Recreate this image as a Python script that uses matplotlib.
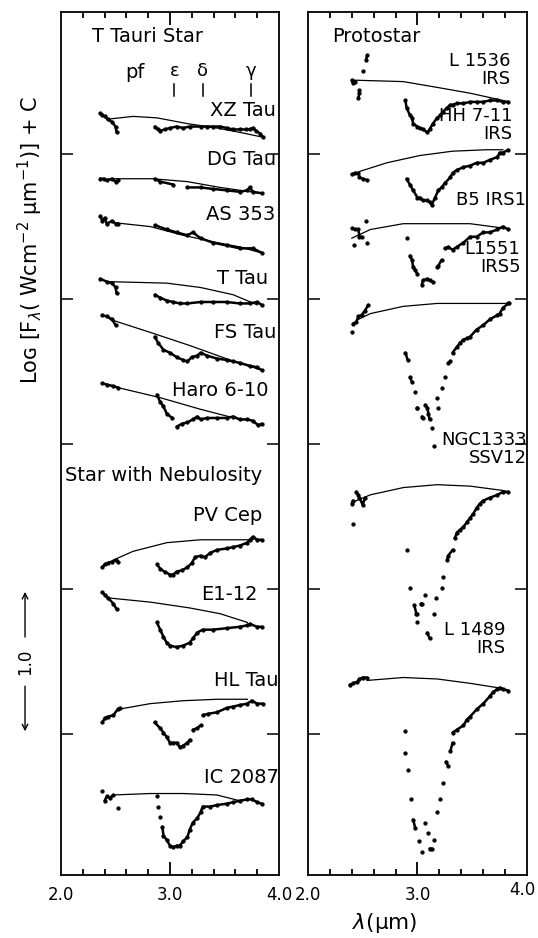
import numpy as np
import matplotlib
matplotlib.use("Agg")
import matplotlib.pyplot as plt
from matplotlib.ticker import FixedLocator, NullFormatter
from matplotlib import font_manager

plt.rcParams['font.family'] = ['DejaVu Sans']
plt.rcParams['mathtext.fontset'] = 'dejavusans'

names = {f.name for f in font_manager.fontManager.ttflist}
HAS_NARROW = 'Liberation Sans Narrow' in names
NARROW = ['Liberation Sans Narrow', 'DejaVu Sans'] if HAS_NARROW else ['DejaVu Sans']

# ---------------- data (x in micron, y = log F + C) ----------------
# T Tauri stars
xz_x = [2.36, 2.38, 2.40, 2.43, 2.47, 2.50, 2.51,
        2.86, 2.89, 2.91, 2.95, 3.00, 3.06, 3.12, 3.18, 3.28, 3.34, 3.39, 3.46, 3.52, 3.58, 3.64, 3.70, 3.73, 3.76, 3.79, 3.83, 3.85]
xz_y = [5.28, 5.27, 5.26, 5.24, 5.22, 5.19, 5.15,
        5.19, 5.17, 5.16, 5.17, 5.18, 5.19, 5.18, 5.19, 5.19, 5.19, 5.19, 5.19, 5.18, 5.17, 5.17, 5.17, 5.17, 5.18, 5.16, 5.14, 5.12]
xz_cx = [2.42, 2.66, 2.88, 3.16, 3.43, 3.64, 3.83]
xz_cy = [5.24, 5.26, 5.25, 5.21, 5.18, 5.15, 5.12]

dg_x = [2.36, 2.39, 2.42, 2.47, 2.50, 2.52,
        2.86, 2.91, 3.03, 3.16, 3.28, 3.39, 3.52, 3.64, 3.71, 3.73, 3.76, 3.84]
dg_y = [4.83, 4.83, 4.82, 4.83, 4.81, 4.82,
        4.83, 4.81, 4.79, 4.77, 4.77, 4.76, 4.75, 4.74, 4.75, 4.77, 4.74, 4.73]
dg_cx = [2.45, 2.84, 3.16, 3.46, 3.83]
dg_cy = [4.83, 4.83, 4.81, 4.77, 4.73]

as_x = [2.36, 2.38, 2.40, 2.42, 2.47, 2.50, 2.52,
        2.86, 2.97, 3.06, 3.16, 3.21, 3.28, 3.39, 3.52, 3.64, 3.76, 3.84]
as_y = [4.57, 4.54, 4.56, 4.52, 4.54, 4.52, 4.52,
        4.51, 4.48, 4.46, 4.44, 4.46, 4.42, 4.39, 4.37, 4.35, 4.35, 4.32]
as_cx = [2.45, 2.82, 3.12, 3.43, 3.64, 3.83]
as_cy = [4.53, 4.50, 4.44, 4.39, 4.36, 4.32]

tt_x = [2.36, 2.42, 2.47, 2.50, 2.51,
        2.86, 2.91, 2.97, 3.03, 3.09, 3.16, 3.28, 3.39, 3.52, 3.64, 3.73, 3.80, 3.84]
tt_y = [4.14, 4.12, 4.11, 4.08, 4.04,
        4.03, 4.01, 3.99, 3.98, 3.97, 3.97, 3.98, 3.98, 3.98, 3.97, 3.97, 3.98, 3.96]
tt_cx = [2.45, 2.97, 3.28, 3.58, 3.80]
tt_cy = [4.12, 4.11, 4.08, 4.03, 3.96]

fs_x = [2.38, 2.42, 2.47, 2.50,
        2.86, 2.89, 2.94, 3.00, 3.06, 3.12, 3.16, 3.20, 3.25, 3.28, 3.34, 3.43, 3.52, 3.58, 3.64, 3.73, 3.80, 3.84]
fs_y = [3.89, 3.88, 3.86, 3.82,
        3.74, 3.70, 3.65, 3.63, 3.60, 3.58, 3.57, 3.60, 3.61, 3.63, 3.61, 3.59, 3.58, 3.57, 3.56, 3.54, 3.53, 3.51]
fs_cx = [2.45, 2.82, 3.18, 3.55, 3.84]
fs_cy = [3.86, 3.77, 3.68, 3.58, 3.51]

haro_x = [2.38, 2.42, 2.48, 2.52,
          2.88, 2.91, 2.94, 2.97, 3.02, 3.06, 3.11, 3.16, 3.21, 3.25, 3.28, 3.34, 3.43, 3.52, 3.58, 3.64, 3.71, 3.76, 3.81, 3.84]
haro_y = [3.42, 3.41, 3.40, 3.39,
          3.34, 3.29, 3.26, 3.21, 3.18, 3.12, 3.14, 3.15, 3.17, 3.19, 3.17, 3.18, 3.18, 3.18, 3.19, 3.17, 3.17, 3.16, 3.13, 3.14]
haro_cx = [2.52, 2.91, 3.28, 3.64]
haro_cy = [3.39, 3.32, 3.24, 3.17]

# Stars with nebulosity
pv_x = [2.38, 2.40, 2.43, 2.47, 2.50, 2.52,
        2.88, 2.91, 2.95, 3.00, 3.03, 3.06, 3.11, 3.16, 3.20, 3.23, 3.28, 3.32, 3.37, 3.43, 3.52, 3.58, 3.64, 3.71, 3.73, 3.76, 3.80, 3.84]
pv_y = [2.15, 2.17, 2.18, 2.19, 2.20, 2.19,
        2.17, 2.14, 2.12, 2.10, 2.10, 2.12, 2.13, 2.15, 2.18, 2.22, 2.23, 2.22, 2.25, 2.27, 2.28, 2.29, 2.30, 2.32, 2.34, 2.36, 2.34, 2.34]
pv_cx = [2.48, 2.66, 2.97, 3.28, 3.58, 3.76]
pv_cy = [2.20, 2.26, 2.32, 2.34, 2.34, 2.34]

e1_x = [2.38, 2.40, 2.43, 2.48, 2.51,
        2.88, 2.91, 2.94, 2.97, 3.00, 3.06, 3.12, 3.18, 3.21, 3.25, 3.30, 3.39, 3.52, 3.64, 3.71, 3.73, 3.80, 3.84]
e1_y = [1.98, 1.96, 1.94, 1.90, 1.86,
        1.77, 1.72, 1.67, 1.63, 1.61, 1.60, 1.61, 1.63, 1.66, 1.70, 1.72, 1.72, 1.73, 1.74, 1.75, 1.76, 1.74, 1.74]
e1_cx = [2.42, 2.82, 3.18, 3.46, 3.71]
e1_cy = [1.94, 1.91, 1.87, 1.83, 1.77]

hl_x = [2.38, 2.40, 2.43, 2.48, 2.52, 2.54,
        2.86, 2.91, 2.94, 2.97, 3.00, 3.03, 3.06, 3.09, 3.12, 3.16, 3.18, 3.21, 3.25, 3.28, 3.30, 3.35, 3.43, 3.52, 3.58, 3.64, 3.71, 3.75, 3.80, 3.85]
hl_y = [1.08, 1.11, 1.12, 1.13, 1.17, 1.18,
        1.08, 1.04, 1.01, 0.98, 0.94, 0.94, 0.94, 0.91, 0.92, 0.94, 0.96, 1.03, 1.04, 1.06, 1.13, 1.14, 1.15, 1.18, 1.19, 1.20, 1.21, 1.23, 1.21, 1.21]
hl_cx = [2.52, 2.82, 3.12, 3.43, 3.71]
hl_cy = [1.17, 1.21, 1.23, 1.24, 1.24]

ic_x = [2.38, 2.40, 2.42, 2.45, 2.48, 2.52,
        2.88, 2.89, 2.91, 2.93, 2.94, 2.97, 3.00, 3.03, 3.06, 3.09, 3.12, 3.16, 3.18, 3.21, 3.25, 3.28, 3.30, 3.37, 3.43, 3.52, 3.58, 3.64, 3.71, 3.75, 3.80, 3.84]
ic_y = [0.61, 0.54, 0.57, 0.56, 0.58, 0.49,
        0.57, 0.50, 0.43, 0.36, 0.30, 0.27, 0.23, 0.22, 0.23, 0.23, 0.26, 0.29, 0.34, 0.39, 0.42, 0.46, 0.50, 0.50, 0.51, 0.52, 0.53, 0.54, 0.55, 0.55, 0.53, 0.52]
ic_cx = [2.48, 2.82, 3.12, 3.43, 3.64]
ic_cy = [0.58, 0.59, 0.59, 0.58, 0.54]

# Protostars
l1536_x = [2.40, 2.41, 2.43, 2.46, 2.47, 2.47, 2.50, 2.53, 2.54,
           2.89, 2.90, 2.93, 2.95, 2.96, 3.00, 3.02, 3.05, 3.09, 3.11, 3.14, 3.18, 3.21, 3.23, 3.27, 3.30, 3.32, 3.36, 3.42, 3.48, 3.54, 3.60, 3.66, 3.73, 3.78, 3.83]
l1536_y = [5.51, 5.49, 5.50, 5.39, 5.42, 5.44, 5.57, 5.65, 5.68,
           5.37, 5.32, 5.27, 5.25, 5.21, 5.19, 5.18, 5.17, 5.15, 5.17, 5.21, 5.25, 5.27, 5.29, 5.32, 5.34, 5.34, 5.35, 5.35, 5.36, 5.36, 5.36, 5.37, 5.37, 5.36, 5.36]
l1536_cx = [2.41, 2.87, 3.18, 3.48, 3.78, 3.83]
l1536_cy = [5.51, 5.50, 5.46, 5.42, 5.37, 5.36]

hh_x = [2.40, 2.43, 2.46, 2.47, 2.50, 2.54,
        2.90, 2.93, 2.96, 3.00, 3.02, 3.05, 3.09, 3.11, 3.13, 3.16, 3.19, 3.22, 3.25, 3.30, 3.32, 3.36, 3.42, 3.48, 3.54, 3.60, 3.66, 3.73, 3.75, 3.78, 3.83]
hh_y = [4.86, 4.87, 4.87, 4.84, 4.83, 4.82,
        4.83, 4.79, 4.75, 4.70, 4.70, 4.68, 4.68, 4.67, 4.65, 4.70, 4.75, 4.77, 4.80, 4.84, 4.87, 4.89, 4.91, 4.92, 4.94, 4.94, 4.96, 4.98, 5.01, 5.01, 5.03]
hh_cx = [2.47, 2.72, 3.02, 3.32, 3.63, 3.78]
hh_cy = [4.88, 4.94, 4.99, 5.02, 5.03, 5.03]

b5_x = [2.40, 2.42, 2.43, 2.46, 2.47, 2.49, 2.53, 2.54,
        2.90, 2.93, 2.95, 2.96, 2.98, 3.00, 3.04, 3.05, 3.09, 3.11, 3.14, 3.18, 3.19, 3.22, 3.25, 3.28, 3.32, 3.36, 3.42, 3.48, 3.54, 3.60, 3.66, 3.73, 3.78, 3.83]
b5_y = [4.49, 4.37, 4.48, 4.48, 4.43, 4.43, 4.54, 4.39,
        4.42, 4.30, 4.27, 4.22, 4.20, 4.17, 4.10, 4.13, 4.14, 4.13, 4.12, 4.22, 4.23, 4.27, 4.35, 4.36, 4.34, 4.36, 4.39, 4.43, 4.43, 4.46, 4.46, 4.48, 4.50, 4.48]
b5_cx = [2.40, 2.57, 2.87, 3.18, 3.48, 3.78]
b5_cy = [4.42, 4.48, 4.52, 4.52, 4.52, 4.49]

l1551_x = [2.40, 2.41, 2.44, 2.46, 2.49, 2.52, 2.55,
           2.89, 2.91, 2.93, 2.95, 2.98, 3.00, 3.00, 3.04, 3.05, 3.07, 3.09, 3.10, 3.11, 3.13, 3.15, 3.18, 3.19, 3.22, 3.25, 3.28, 3.30, 3.32, 3.36, 3.39, 3.42, 3.45, 3.48, 3.54, 3.60, 3.66, 3.73, 3.75, 3.78, 3.83, 3.84]
l1551_y = [3.77, 3.83, 3.84, 3.88, 3.89, 3.92, 3.96,
           3.63, 3.58, 3.46, 3.43, 3.36, 3.25, 3.25, 3.19, 3.18, 3.27, 3.25, 3.21, 3.17, 3.11, 2.99, 3.32, 3.25, 3.39, 3.46, 3.56, 3.57, 3.63, 3.67, 3.70, 3.72, 3.73, 3.74, 3.79, 3.82, 3.86, 3.89, 3.90, 3.94, 3.97, 3.97]
l1551_cx = [2.46, 2.57, 2.87, 3.18, 3.48, 3.84]
l1551_cy = [3.86, 3.90, 3.95, 3.97, 3.97, 3.97]

ngc_x = [2.40, 2.41, 2.41, 2.44, 2.46, 2.47, 2.50, 2.52,
         2.90, 2.93, 2.97, 2.99, 3.00, 3.00, 3.03, 3.04, 3.07, 3.09, 3.11, 3.15, 3.17, 3.22, 3.23, 3.27, 3.28, 3.32, 3.34, 3.36, 3.39, 3.42, 3.45, 3.48, 3.51, 3.54, 3.57, 3.60, 3.66, 3.73, 3.78, 3.83]
ngc_y = [2.59, 2.61, 2.45, 2.67, 2.65, 2.63, 2.58, 2.63,
         2.27, 2.01, 1.89, 1.83, 1.83, 1.77, 1.90, 1.90, 1.96, 1.70, 1.66, 1.83, 1.94, 2.01, 2.08, 2.20, 2.23, 2.27, 2.35, 2.39, 2.41, 2.43, 2.46, 2.49, 2.52, 2.56, 2.59, 2.61, 2.63, 2.65, 2.67, 2.67]
ngc_cx = [2.41, 2.57, 2.87, 3.18, 3.48, 3.78, 3.83]
ngc_cy = [2.60, 2.65, 2.70, 2.72, 2.71, 2.68, 2.67]

l1489_x = [2.38, 2.41, 2.45, 2.47, 2.50, 2.54,
           2.89, 2.89, 2.91, 2.94, 2.96, 2.98, 3.01, 3.04, 3.07, 3.10, 3.11, 3.13, 3.15, 3.18, 3.21, 3.23, 3.26, 3.28, 3.30, 3.32, 3.32, 3.36, 3.42, 3.45, 3.48, 3.54, 3.60, 3.66, 3.69, 3.73, 3.75, 3.78, 3.83]
l1489_y = [1.34, 1.35, 1.36, 1.38, 1.39, 1.39,
           1.02, 0.87, 0.75, 0.55, 0.41, 0.35, 0.26, 0.19, 0.39, 0.32, 0.21, 0.21, 0.27, 0.46, 0.55, 0.66, 0.81, 0.78, 0.88, 0.94, 1.01, 1.03, 1.06, 1.10, 1.12, 1.17, 1.21, 1.26, 1.29, 1.31, 1.32, 1.31, 1.30]
l1489_cx = [2.54, 2.87, 3.18, 3.48, 3.73, 3.80]
l1489_cy = [1.37, 1.39, 1.38, 1.35, 1.32, 1.30]

pfund_lines = [3.04, 3.30, 3.74]
pfund_names = ['ε', 'δ', 'γ']

x_major = [2.0, 3.0, 4.0]
x_major_labels = ['2.0', '3.0', '4.0']
x_minor = [2.2, 2.4, 2.6, 2.8, 3.2, 3.4, 3.6, 3.8]

tauri_labels = ['XZ Tau', 'DG Tau', 'AS 353', 'T Tau', 'FS Tau', 'Haro 6-10',
                'PV Cep', 'E1-12', 'HL Tau', 'IC 2087']
proto_labels = ['L 1536\nIRS', 'HH 7-11\nIRS', 'B5 IRS1', 'L1551\nIRS5',
                'NGC1333\nSSV12', 'L 1489\nIRS']

# ---------------- figure ----------------
W, H = 538, 938
fig = plt.figure(figsize=(W / 100, H / 100), dpi=100)
bot = 1 - 875 / H
hgt = (875 - 12) / H
axL = fig.add_axes([61 / W, bot, 218 / W, hgt])
axR = fig.add_axes([308 / W, bot, 219 / W, hgt])

YLIM = (0.028, 5.98)


def draw_obs(ax, x, y):
    x = np.asarray(x, float)
    y = np.asarray(y, float)
    ax.plot(x, y, 'o', ms=2.7, color='k', mec='k', mew=0.3, zorder=3)
    xs, ys = [x[0]], [y[0]]
    for i in range(1, len(x)):
        if abs(x[i] - x[i - 1]) > 0.13 or abs(y[i] - y[i - 1]) > 0.06:
            xs.append(np.nan)
            ys.append(np.nan)
        xs.append(x[i])
        ys.append(y[i])
    ax.plot(xs, ys, '-', color='k', lw=1.8, zorder=3, solid_capstyle='round')


def draw_cont(ax, x, y):
    ax.plot(x, y, '-', color='k', lw=0.9, zorder=2)


left_sets = [(xz_x, xz_y, xz_cx, xz_cy), (dg_x, dg_y, dg_cx, dg_cy),
             (as_x, as_y, as_cx, as_cy), (tt_x, tt_y, tt_cx, tt_cy),
             (fs_x, fs_y, fs_cx, fs_cy), (haro_x, haro_y, haro_cx, haro_cy),
             (pv_x, pv_y, pv_cx, pv_cy), (e1_x, e1_y, e1_cx, e1_cy),
             (hl_x, hl_y, hl_cx, hl_cy), (ic_x, ic_y, ic_cx, ic_cy)]
right_sets = [(l1536_x, l1536_y, l1536_cx, l1536_cy), (hh_x, hh_y, hh_cx, hh_cy),
              (b5_x, b5_y, b5_cx, b5_cy), (l1551_x, l1551_y, l1551_cx, l1551_cy),
              (ngc_x, ngc_y, ngc_cx, ngc_cy), (l1489_x, l1489_y, l1489_cx, l1489_cy)]

for ax, sets in ((axL, left_sets), (axR, right_sets)):
    for x, y, cx, cy in sets:
        draw_cont(ax, cx, cy)
        draw_obs(ax, x, y)

TICK_FS = 14.5 if HAS_NARROW else 12
PROTO_FS = 14.5 if HAS_NARROW else 13

for ax in (axL, axR):
    ax.set_xlim(2.0, 4.0)
    ax.set_ylim(*YLIM)
    ax.xaxis.set_major_locator(FixedLocator(x_major))
    ax.xaxis.set_minor_locator(FixedLocator(x_minor))
    ax.xaxis.set_minor_formatter(NullFormatter())
    ax.set_yticks([1, 2, 3, 4, 5])
    ax.set_yticklabels([])
    ax.tick_params(axis='x', which='both', direction='in', length=0, width=0, pad=8)
    ax.tick_params(axis='y', which='major', direction='in', length=8.5, width=1.1,
                   left=True, right=True)
    for s in ax.spines.values():
        s.set_linewidth(1.3)
    # inward x tick marks on bottom and top (heights in axes fraction)
    xt = ax.get_xaxis_transform()
    for xv in x_minor:
        ax.plot([xv, xv], [0, 0.007], transform=xt, color='k', lw=1.3,
                clip_on=False, solid_capstyle='butt')
        ax.plot([xv, xv], [1, 1 - 0.007], transform=xt, color='k', lw=1.3,
                clip_on=False, solid_capstyle='butt')
    ax.plot([3.0, 3.0], [0, 0.015], transform=xt, color='k', lw=1.3,
            clip_on=False, solid_capstyle='butt')
    ax.plot([3.0, 3.0], [1, 1 - 0.015], transform=xt, color='k', lw=1.3,
            clip_on=False, solid_capstyle='butt')

axL.set_xticklabels(x_major_labels, family=NARROW, fontsize=TICK_FS)
axR.set_xticklabels(x_major_labels[:2] + [''], family=NARROW, fontsize=TICK_FS)
axR.text(3.955, -0.075, x_major_labels[2], fontsize=TICK_FS, family=NARROW,
         ha='center', va='center', clip_on=False)

# ---- left panel texts ----
FS = 14
axL.text(2.28, 5.81, 'T Tauri Star', fontsize=FS, ha='left', va='center')
axL.text(2.68, 5.56, 'pf', fontsize=FS, ha='center', va='center')
for lx, nm in zip(pfund_lines, pfund_names):
    axL.text(lx, 5.57, nm, fontsize=FS - 1, ha='center', va='center')
    axL.plot([lx, lx], [5.40, 5.48], color='k', lw=1.1)

tauri_pos = [(3.97, 5.30), (3.97, 4.96), (3.97, 4.58), (3.90, 4.14), (3.98, 3.77),
             (3.90, 3.37), (3.85, 2.51), (3.80, 1.96), (4.0, 1.37), (4.0, 0.70)]
for (tx, ty), lab in zip(tauri_pos, tauri_labels):
    axL.text(tx, ty, lab, fontsize=FS, ha='right', va='center')
axL.text(2.04, 2.78, 'Star with Nebulosity', fontsize=FS, ha='left', va='center')

# ---- right panel texts ----
axR.text(2.22, 5.81, 'Protostar', fontsize=FS, ha='left', va='center')
proto_pos = [(3.85, 5.58), (3.87, 5.20), (3.99, 4.68), (3.94, 4.285), (4.0, 2.965), (3.80, 1.655)]
for (tx, ty), lab in zip(proto_pos, proto_labels):
    axR.text(tx, ty, lab, fontsize=PROTO_FS, family=NARROW, ha='right', va='center',
             linespacing=1.0, multialignment='right')

axR.text(2.70, -0.305, r'$\lambda$(µm)', fontsize=15.5, ha='center', va='center',
         clip_on=False)

# y label and 1.0 scale arrow
fig.text(30 / W, 1 - 240 / H, r'Lᴏɢ [F$_\lambda$( Wcm$^{-2}$ µm$^{-1}$)] + C',
         rotation=90, ha='center', va='center', fontsize=15)
axL.annotate('', xy=(1.67, 2.0), xytext=(1.67, 1.65), xycoords='data',
             arrowprops=dict(arrowstyle='->', lw=1.0, color='k'), annotation_clip=False)
axL.annotate('', xy=(1.67, 1.0), xytext=(1.67, 1.35), xycoords='data',
             arrowprops=dict(arrowstyle='->', lw=1.0, color='k'), annotation_clip=False)
axL.text(1.67, 1.5, '1.0', rotation=90, ha='center', va='center', fontsize=12,
         clip_on=False)

fig.savefig('out.png', dpi=100)
